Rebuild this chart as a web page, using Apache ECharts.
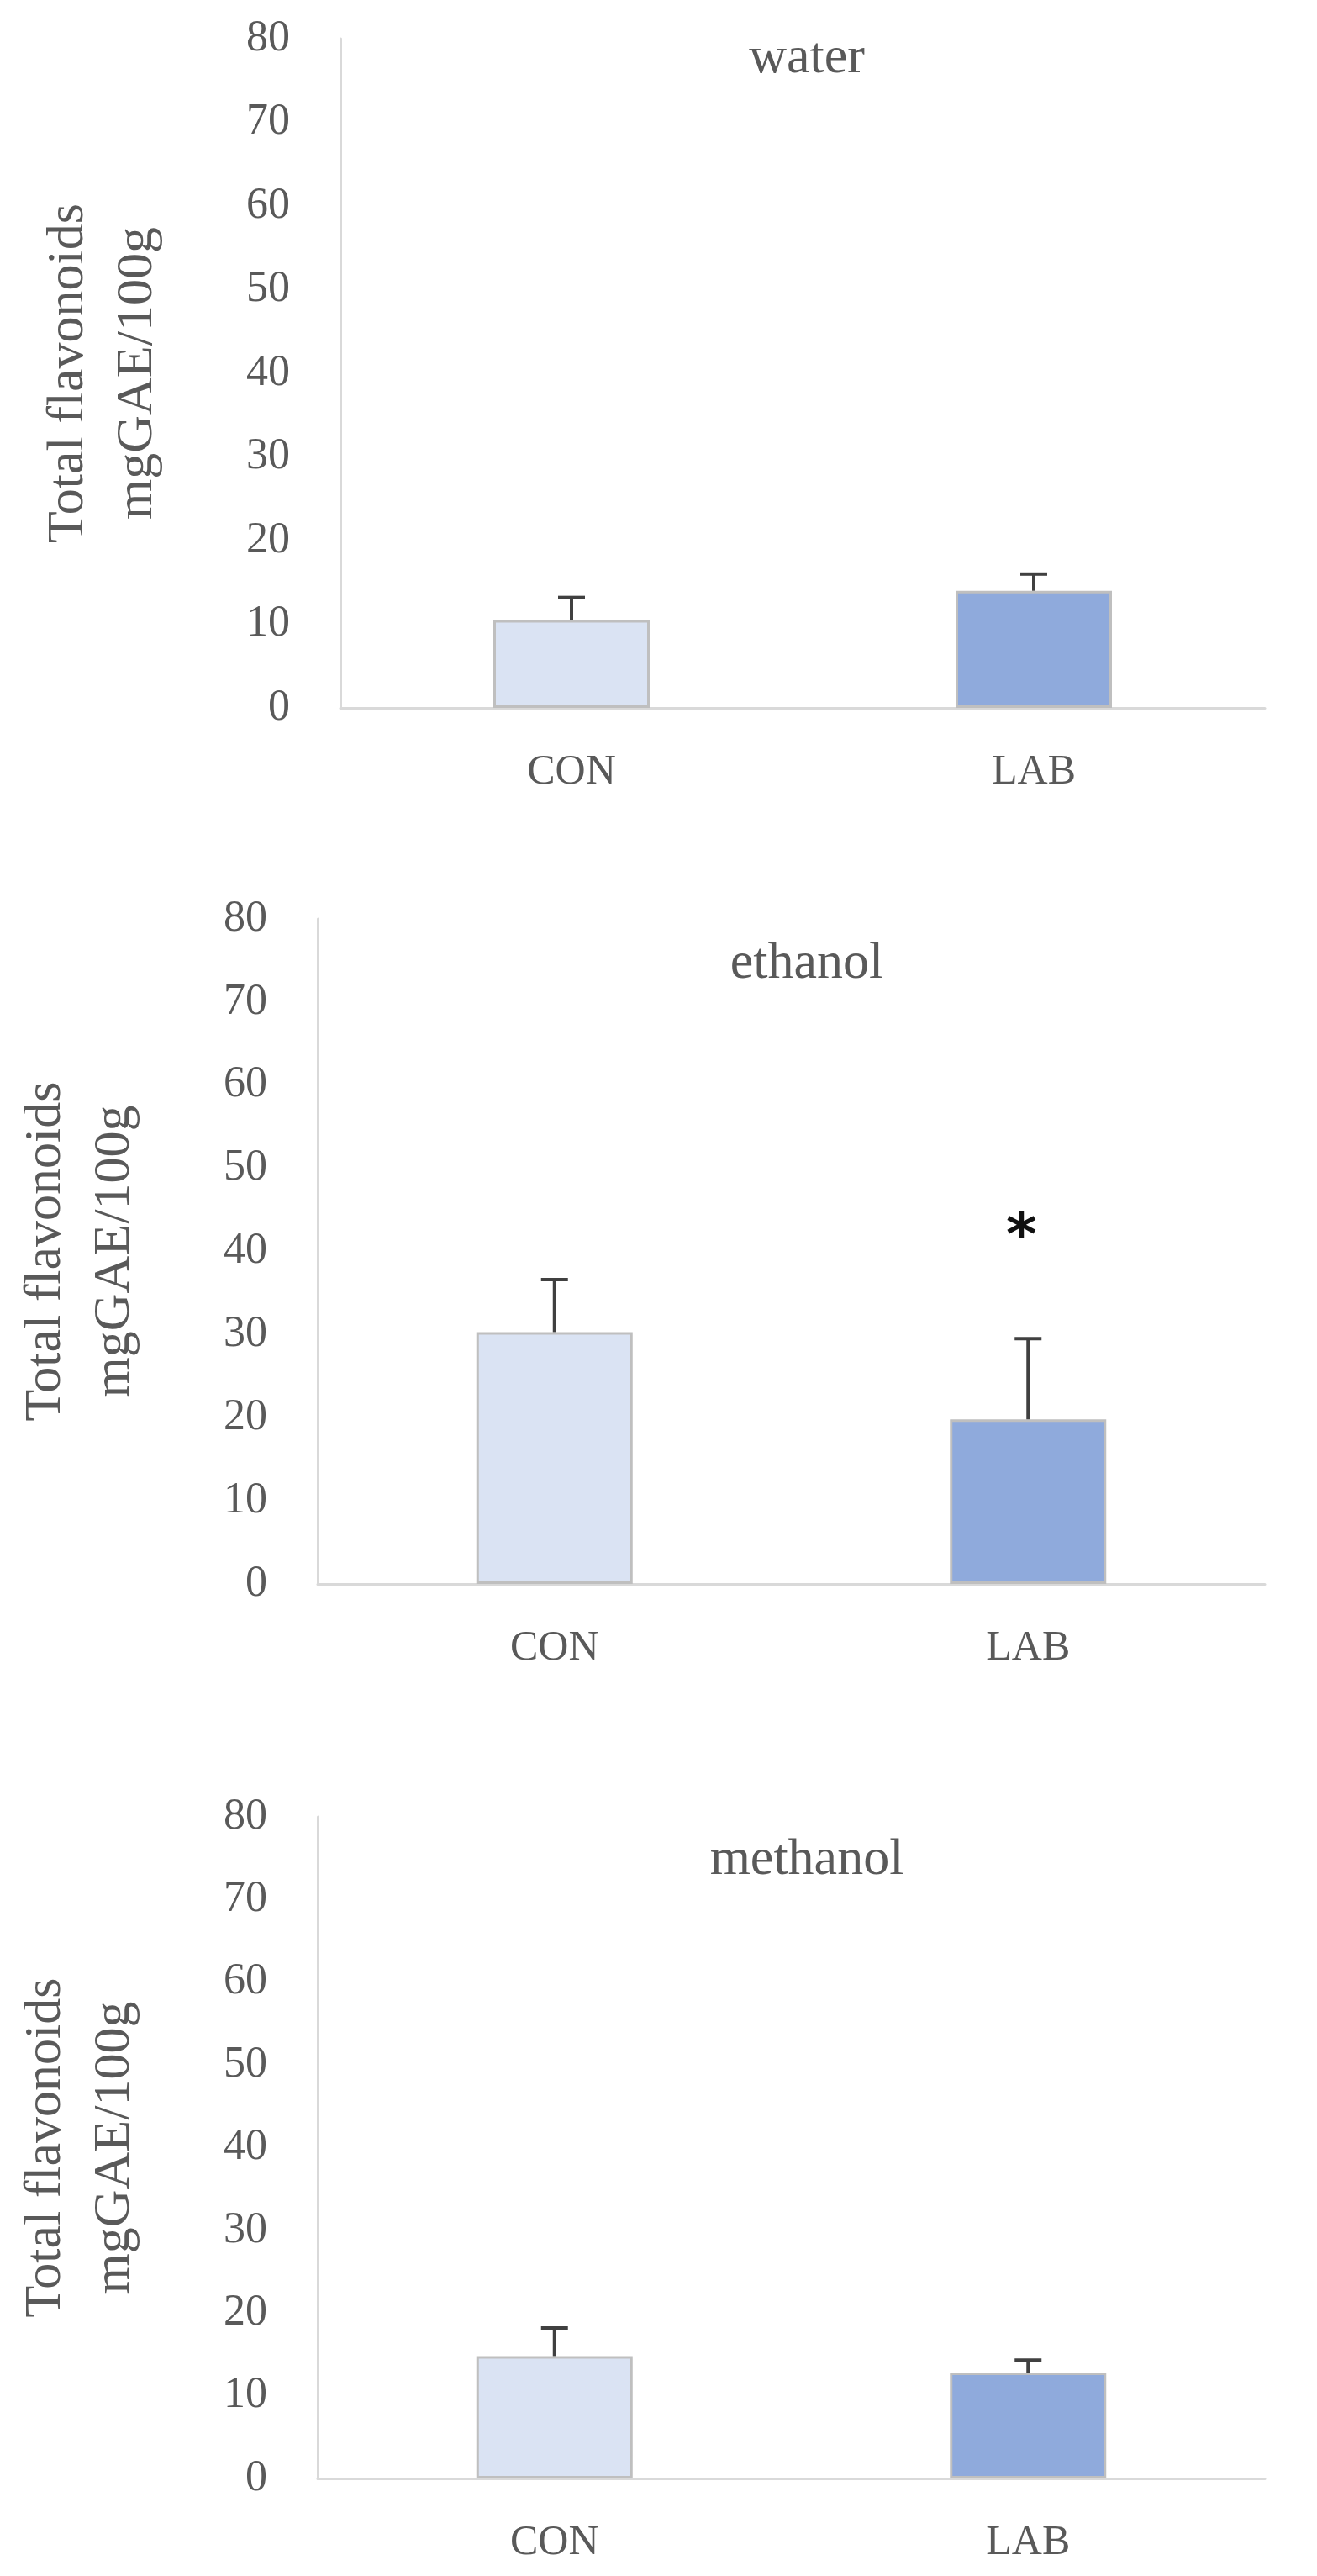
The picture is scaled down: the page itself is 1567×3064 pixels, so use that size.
<!DOCTYPE html>
<html><head><meta charset="utf-8">
<script src="https://cdn.jsdelivr.net/npm/echarts@6/dist/echarts.min.js"></script>
<style>html,body{margin:0;padding:0;background:#fff}#c{width:1567px;height:3064px}</style>
</head><body><div id="c"></div>
<script>
const categories = ['CON', 'LAB'];
const panelTitles = ['water', 'ethanol', 'methanol'];
const waterMeans = [10.5, 14.0];
const waterErrTops = [13.2, 16.0];
const ethanolMeans = [30.3, 19.8];
const ethanolErrTops = [36.6, 29.5];
const methanolMeans = [14.8, 12.8];
const methanolErrTops = [18.2, 14.3];
const ethanolStars = [null, 41.5];
const yTicks = [0, 10, 20, 30, 40, 50, 60, 70, 80];

const means = [waterMeans, ethanolMeans, methanolMeans];
const errs = [waterErrTops, ethanolErrTops, methanolErrTops];
const barColors = ['#dae3f3', '#8faadc'];
const font = '"Liberation Serif", "DejaVu Serif", serif';
const grey = '#595959';

const grids = [
  {left: 405, right: 62, top: 46, height: 796},
  {left: 378, right: 62, top: 1093, height: 791},
  {left: 378, right: 62, top: 2161, height: 787}
];
const titleCenters = [68, 1145, 2211];

const option = {
  animation: false,
  backgroundColor: '#fff',
  title: panelTitles.map((t, i) => ({text: t, left: 955, top: titleCenters[i] - 34,
    textAlign: 'center', textStyle: {fontFamily: font, fontSize: 62, fontWeight: 'normal', color: grey}})),
  grid: grids,
  xAxis: grids.map((g, i) => ({type: 'category', gridIndex: i, data: categories,
    axisLine: {lineStyle: {color: '#d9d9d9', width: 3}}, axisTick: {show: false},
    axisLabel: {fontFamily: font, fontSize: 50, color: grey, margin: 52}})),
  yAxis: grids.map((g, i) => ({type: 'value', gridIndex: i, min: yTicks[0], max: yTicks[yTicks.length-1], interval: 10,
    name: 'Total flavonoids\nmgGAE/100g', nameLocation: 'middle', nameGap: 200, nameRotate: 90,
    nameTextStyle: {fontFamily: font, fontSize: 62, color: grey, lineHeight: 82},
    axisLine: {show: true, lineStyle: {color: '#d9d9d9', width: 3}}, axisTick: {show: false}, splitLine: {show: false},
    axisLabel: {fontFamily: font, fontSize: 52, color: grey, margin: 60}})),
  series: []
};

means.forEach((m, i) => {
  option.series.push({type: 'bar', xAxisIndex: i, yAxisIndex: i, barWidth: 186,
    data: m.map((v, j) => ({value: v, itemStyle: {color: barColors[j]}})),
    itemStyle: {borderColor: '#bfbfbf', borderWidth: 3}, z: 2});
  option.series.push({type: 'custom', xAxisIndex: i, yAxisIndex: i, z: 3,
    data: m.map((v, j) => [j, v, errs[i][j]]),
    renderItem: (params, api) => {
      const b = api.coord([api.value(0), api.value(1)]);
      const t = api.coord([api.value(0), api.value(2)]);
      const st = {stroke: '#404040', lineWidth: 4};
      return {type: 'group', children: [
        {type: 'line', shape: {x1: b[0], y1: b[1], x2: t[0], y2: t[1]}, style: st},
        {type: 'line', shape: {x1: t[0]-16, y1: t[1], x2: t[0]+16, y2: t[1]}, style: st}
      ]};
    }});
});
option.series.push({type: 'custom', xAxisIndex: 1, yAxisIndex: 1, z: 4,
  data: ethanolStars.map((v, j) => v == null ? null : [j, v]).filter(d => d),
  renderItem: (params, api) => {
    const p = api.coord([api.value(0), api.value(1)]);
    return {type: 'text', x: p[0] - 8, y: p[1], style: {text: '*', fontSize: 70, fontWeight: 'bold',
      fontFamily: '"DejaVu Sans", sans-serif', fill: '#111', align: 'center', verticalAlign: 'middle'}};
  }});

echarts.init(document.getElementById('c')).setOption(option);
</script></body></html>
